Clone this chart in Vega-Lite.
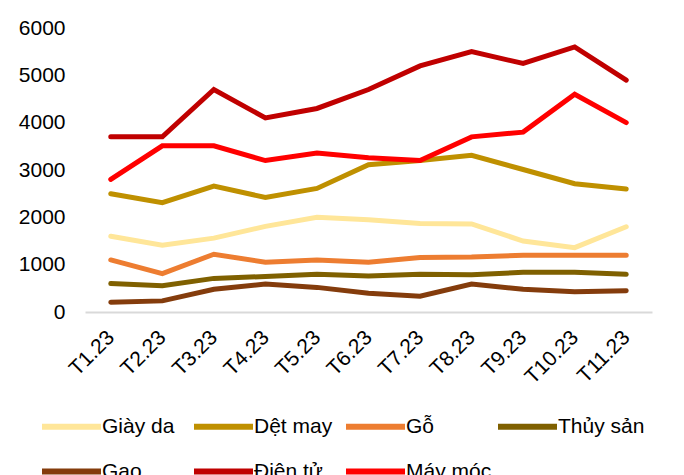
{
  "$schema": "https://vega.github.io/schema/vega-lite/v6.json",
  "autosize": {"type": "none"},
  "width": 567,
  "height": 284,
  "padding": {"left": 85, "top": 28, "right": 32, "bottom": 163},
  "background": "white",
  "config": {
    "view": {"stroke": null},
    "font": "Liberation Sans"
  },
  "datasets": {
    "rows": [
      {"m": "T1.23", "s": "Giày da", "v": 1600}, {"m": "T2.23", "s": "Giày da", "v": 1410}, {"m": "T3.23", "s": "Giày da", "v": 1560}, {"m": "T4.23", "s": "Giày da", "v": 1810}, {"m": "T5.23", "s": "Giày da", "v": 2000}, {"m": "T6.23", "s": "Giày da", "v": 1950}, {"m": "T7.23", "s": "Giày da", "v": 1870}, {"m": "T8.23", "s": "Giày da", "v": 1860}, {"m": "T9.23", "s": "Giày da", "v": 1500}, {"m": "T10.23", "s": "Giày da", "v": 1360}, {"m": "T11.23", "s": "Giày da", "v": 1800},
      {"m": "T1.23", "s": "Dệt may", "v": 2500}, {"m": "T2.23", "s": "Dệt may", "v": 2310}, {"m": "T3.23", "s": "Dệt may", "v": 2660}, {"m": "T4.23", "s": "Dệt may", "v": 2420}, {"m": "T5.23", "s": "Dệt may", "v": 2610}, {"m": "T6.23", "s": "Dệt may", "v": 3110}, {"m": "T7.23", "s": "Dệt may", "v": 3200}, {"m": "T8.23", "s": "Dệt may", "v": 3310}, {"m": "T9.23", "s": "Dệt may", "v": 3010}, {"m": "T10.23", "s": "Dệt may", "v": 2710}, {"m": "T11.23", "s": "Dệt may", "v": 2600},
      {"m": "T1.23", "s": "Gỗ", "v": 1100}, {"m": "T2.23", "s": "Gỗ", "v": 810}, {"m": "T3.23", "s": "Gỗ", "v": 1220}, {"m": "T4.23", "s": "Gỗ", "v": 1050}, {"m": "T5.23", "s": "Gỗ", "v": 1100}, {"m": "T6.23", "s": "Gỗ", "v": 1050}, {"m": "T7.23", "s": "Gỗ", "v": 1150}, {"m": "T8.23", "s": "Gỗ", "v": 1160}, {"m": "T9.23", "s": "Gỗ", "v": 1200}, {"m": "T10.23", "s": "Gỗ", "v": 1200}, {"m": "T11.23", "s": "Gỗ", "v": 1200},
      {"m": "T1.23", "s": "Thủy sản", "v": 600}, {"m": "T2.23", "s": "Thủy sản", "v": 555}, {"m": "T3.23", "s": "Thủy sản", "v": 710}, {"m": "T4.23", "s": "Thủy sản", "v": 750}, {"m": "T5.23", "s": "Thủy sản", "v": 795}, {"m": "T6.23", "s": "Thủy sản", "v": 760}, {"m": "T7.23", "s": "Thủy sản", "v": 800}, {"m": "T8.23", "s": "Thủy sản", "v": 785}, {"m": "T9.23", "s": "Thủy sản", "v": 840}, {"m": "T10.23", "s": "Thủy sản", "v": 840}, {"m": "T11.23", "s": "Thủy sản", "v": 795},
      {"m": "T1.23", "s": "Gạo", "v": 205}, {"m": "T2.23", "s": "Gạo", "v": 235}, {"m": "T3.23", "s": "Gạo", "v": 480}, {"m": "T4.23", "s": "Gạo", "v": 590}, {"m": "T5.23", "s": "Gạo", "v": 520}, {"m": "T6.23", "s": "Gạo", "v": 395}, {"m": "T7.23", "s": "Gạo", "v": 335}, {"m": "T8.23", "s": "Gạo", "v": 590}, {"m": "T9.23", "s": "Gạo", "v": 480}, {"m": "T10.23", "s": "Gạo", "v": 430}, {"m": "T11.23", "s": "Gạo", "v": 450},
      {"m": "T1.23", "s": "Điện tử", "v": 3700}, {"m": "T2.23", "s": "Điện tử", "v": 3700}, {"m": "T3.23", "s": "Điện tử", "v": 4700}, {"m": "T4.23", "s": "Điện tử", "v": 4100}, {"m": "T5.23", "s": "Điện tử", "v": 4300}, {"m": "T6.23", "s": "Điện tử", "v": 4700}, {"m": "T7.23", "s": "Điện tử", "v": 5200}, {"m": "T8.23", "s": "Điện tử", "v": 5500}, {"m": "T9.23", "s": "Điện tử", "v": 5250}, {"m": "T10.23", "s": "Điện tử", "v": 5600}, {"m": "T11.23", "s": "Điện tử", "v": 4900},
      {"m": "T1.23", "s": "Máy móc", "v": 2800}, {"m": "T2.23", "s": "Máy móc", "v": 3510}, {"m": "T3.23", "s": "Máy móc", "v": 3510}, {"m": "T4.23", "s": "Máy móc", "v": 3200}, {"m": "T5.23", "s": "Máy móc", "v": 3360}, {"m": "T6.23", "s": "Máy móc", "v": 3260}, {"m": "T7.23", "s": "Máy móc", "v": 3200}, {"m": "T8.23", "s": "Máy móc", "v": 3700}, {"m": "T9.23", "s": "Máy móc", "v": 3800}, {"m": "T10.23", "s": "Máy móc", "v": 4600}, {"m": "T11.23", "s": "Máy móc", "v": 4000}
    ]
  },
  "data": {"name": "rows"},
  "mark": {"type": "line", "strokeWidth": 5, "strokeCap": "round", "strokeJoin": "miter"},
  "encoding": {
    "x": {
      "field": "m", "type": "ordinal", "sort": null,
      "scale": {"type": "point", "padding": 0.5},
      "axis": {
        "title": null, "labelAngle": -45, "labelAlign": "right", "labelBaseline": "middle",
        "labelFontSize": 21, "labelColor": "#000000", "labelPadding": 22,
        "ticks": false, "domainColor": "#D9D9D9", "domainWidth": 2, "grid": false
      }
    },
    "y": {
      "field": "v", "type": "quantitative",
      "scale": {"domain": [0, 6000], "nice": false},
      "axis": {
        "title": null, "values": [0, 1000, 2000, 3000, 4000, 5000, 6000], "format": "d",
        "labelFontSize": 21, "labelColor": "#000000", "labelPadding": 20,
        "ticks": false, "domain": false, "grid": false
      }
    },
    "color": {
      "field": "s", "type": "nominal",
      "scale": {
        "domain": ["Giày da", "Dệt may", "Gỗ", "Thủy sản", "Gạo", "Điện tử", "Máy móc"],
        "range": ["#FFE699", "#BF9000", "#ED7D31", "#7F6000", "#843C0C", "#C00000", "#FF0000"]
      },
      "legend": {
        "title": null, "orient": "none", "legendX": -46, "legendY": 366,
        "direction": "horizontal", "columns": 4, "gridAlign": "all",
        "columnPadding": -7, "rowPadding": -29, "padding": 0,
        "symbolType": "stroke", "symbolSize": 3481, "symbolStrokeWidth": 6,
        "labelFontSize": 21, "labelColor": "#000000", "labelOffset": -2, "labelLimit": 300
      }
    }
  }
}
